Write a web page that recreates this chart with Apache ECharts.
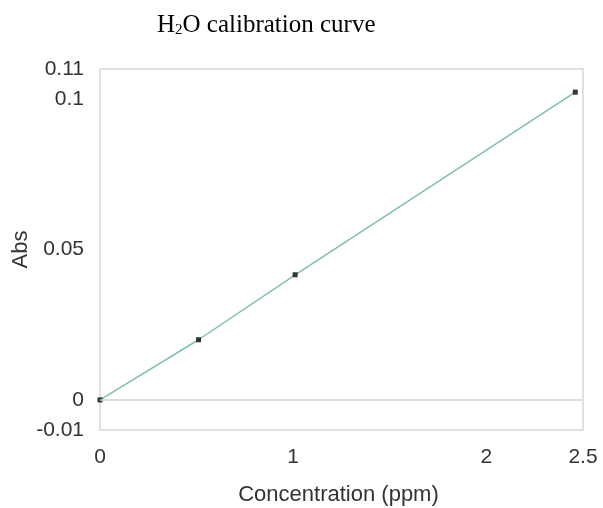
<!DOCTYPE html>
<html>
<head>
<meta charset="utf-8">
<script src="https://cdn.jsdelivr.net/npm/echarts@6/dist/echarts.min.js"></script>
<style>html,body{margin:0;padding:0;background:#fff}#c{width:603px;height:508px}</style>
</head>
<body>
<div id="c"></div>
<script>
const concentration = [0, 0.51, 1.01, 2.46];
const absorbance = [0, 0.0200, 0.0416, 0.1023];
const xTickLabels = [0, 1, 2, 2.5];
const yTickLabels = [-0.01, 0, 0.05, 0.1, 0.11];

const chart = echarts.init(document.getElementById('c'), null, {renderer: 'canvas'});
const pts = concentration.map((x, i) => [x, absorbance[i]]);
const near = (v, arr) => arr.some(a => Math.abs(a - v) < 1e-6);
const fontSans = 'Liberation Sans, Arial, sans-serif';
const serif = 'Liberation Serif, Times New Roman, serif';
chart.setOption({
  backgroundColor: '#fff',
  animation: false,
  title: {
    text: '{a|H}{s|2}{a|O calibration curve}',
    left: 152,
    top: 7,
    textStyle: {
      fontWeight: 'normal',
      rich: {
        a: {fontFamily: serif, fontSize: 25, fontWeight: 'normal', color: '#000'},
        s: {fontFamily: serif, fontSize: 15, fontWeight: 'normal', color: '#000', padding: [11, 0, 0, 0]}
      }
    }
  },
  grid: {left: 100, right: 20, top: 69, bottom: 78, containLabel: false, outerBoundsMode: 'none',
         show: true, borderColor: '#d8d8d8', borderWidth: 1.5},
  xAxis: {
    type: 'value', min: 0, max: 2.5, interval: 0.5,
    name: 'Concentration (ppm)', nameLocation: 'middle', nameGap: 54,
    nameTextStyle: {fontFamily: fontSans, fontSize: 22, color: '#333', padding: [0, 6, 0, 0]},
    axisLine: {show: false}, axisTick: {show: false}, splitLine: {show: false},
    axisLabel: {
      margin: 17, fontFamily: fontSans, fontSize: 21, color: '#333', showMaxLabel: true,
      formatter: v => near(v, xTickLabels) ? String(Math.round(v * 10) / 10) : ''
    }
  },
  yAxis: {
    type: 'value', min: -0.01, max: 0.11, interval: 0.01,
    name: 'Abs', nameLocation: 'middle', nameGap: 68, nameRotate: 90, nameMoveOverlap: false,
    nameTextStyle: {fontFamily: fontSans, fontSize: 22, color: '#333'},
    axisLine: {show: false}, axisTick: {show: false}, splitLine: {show: false},
    axisLabel: {
      margin: 16, fontFamily: fontSans, fontSize: 21, color: '#333', showMaxLabel: true, showMinLabel: true,
      formatter: v => near(v, yTickLabels) ? String(Math.round(v * 100) / 100) : ''
    }
  },
  series: [{
    type: 'line',
    data: pts,
    symbol: 'rect', symbolSize: 5,
    itemStyle: {color: '#333'},
    lineStyle: {color: '#80c1a6', width: 1.5},
    markLine: {
      silent: true, symbol: 'none', label: {show: false},
      lineStyle: {color: '#d0d0d0', type: 'solid', width: 1.5},
      data: [{yAxis: 0}]
    },
    z: 3
  }]
});
</script>
</body>
</html>
